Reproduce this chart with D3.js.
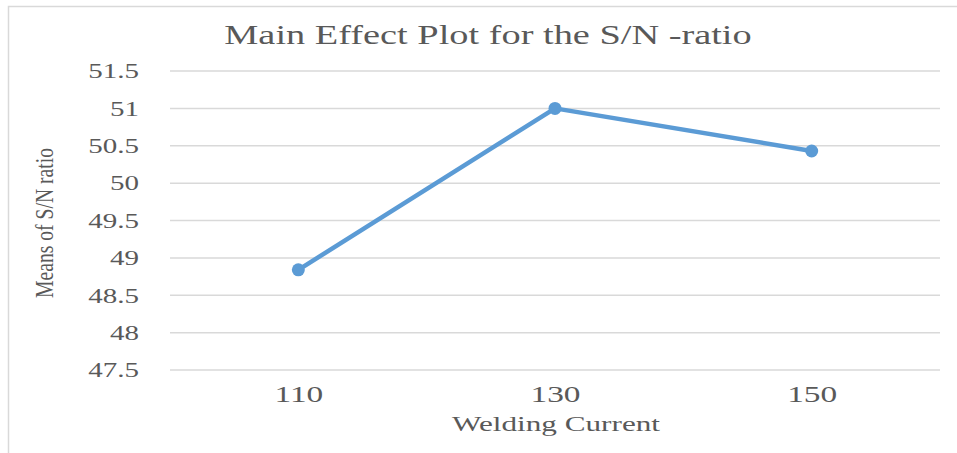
<!DOCTYPE html>
<html>
<head>
<meta charset="utf-8">
<script src="https://cdn.jsdelivr.net/npm/d3@7"></script>
<style>
  body { margin: 0; background: #fff; }
  svg { display: block; }
</style>
</head>
<body>
<script>
const currents = ['110', '130', '150']
const snMeans = [48.84, 51.0, 50.43]
const yTicks = [47.5, 48, 48.5, 49, 49.5, 50, 50.5, 51, 51.5]

const SVG_WIDTH = 957
const SVG_HEIGHT = 453
const MARGIN = { LEFT: 170, RIGHT: 17, TOP: 71, BOTTOM: 83 }
const FONT = "'Liberation Serif', 'Times New Roman', serif"
const TEXT_COLOR = '#595959'

// stretch text horizontally like the original picture
function stretch(sel, k) {
  sel.each(function() {
    const w = this.getComputedTextLength()
    d3.select(this)
      .attr('textLength', w * k)
      .attr('lengthAdjust', 'spacingAndGlyphs')
  })
}

const svg = d3.select('body')
  .append('svg')
  .attr('width', SVG_WIDTH)
  .attr('height', SVG_HEIGHT)

// frame
svg.append('path')
  .attr('d', `M8.5,${SVG_HEIGHT} V6.5 H${SVG_WIDTH}`)
  .attr('fill', 'none')
  .attr('stroke', '#d9d9d9')
  .attr('stroke-width', 1.5)

const scaleX = d3.scalePoint()
  .domain(currents)
  .range([MARGIN.LEFT, SVG_WIDTH - MARGIN.RIGHT])
  .padding(0.5)

const scaleY = d3.scaleLinear()
  .domain([47.5, 51.5])
  .range([SVG_HEIGHT - MARGIN.BOTTOM, MARGIN.TOP])

// gridlines
svg.append('g')
  .selectAll('line')
  .data(yTicks)
  .enter()
    .append('line')
    .attr('x1', MARGIN.LEFT)
    .attr('x2', SVG_WIDTH - MARGIN.RIGHT)
    .attr('y1', d => scaleY(d))
    .attr('y2', d => scaleY(d))
    .attr('stroke', '#d9d9d9')
    .attr('stroke-width', 1.5)

// y axis
const yAxis = svg.append('g')
  .attr('transform', `translate(${MARGIN.LEFT - 31}, 0)`)
  .call(d3.axisLeft(scaleY).tickValues(yTicks).tickSize(0).tickFormat(d3.format('')))
yAxis.select('.domain').remove()
yAxis.selectAll('text')
  .attr('x', 0)
  .attr('font-size', '20px')
  .attr('font-family', FONT)
  .attr('fill', TEXT_COLOR)
  .attr('dy', '0.34em')
  .call(stretch, 1.45)

// x axis
const xAxis = svg.append('g')
  .attr('transform', `translate(0, ${SVG_HEIGHT - MARGIN.BOTTOM})`)
  .call(d3.axisBottom(scaleX).tickSize(0))
xAxis.select('.domain').remove()
xAxis.selectAll('text')
  .attr('y', 32)
  .attr('dy', 0)
  .attr('font-size', '23px')
  .attr('font-family', FONT)
  .attr('fill', TEXT_COLOR)
  .call(stretch, 1.45)

// line + markers
svg.append('path')
  .datum(snMeans)
  .attr('fill', 'none')
  .attr('stroke', '#5b9bd5')
  .attr('stroke-width', 4.5)
  .attr('stroke-linejoin', 'round')
  .attr('d', d3.line()
    .x((d, i) => scaleX(currents[i]))
    .y(d => scaleY(d)))

svg.append('g')
  .selectAll('circle')
  .data(snMeans)
  .enter()
    .append('circle')
    .attr('cx', (d, i) => scaleX(currents[i]))
    .attr('cy', d => scaleY(d))
    .attr('r', 6.5)
    .attr('fill', '#5b9bd5')

// titles
svg.append('text')
  .text('Main Effect Plot for the S/N -ratio')
  .attr('x', 488)
  .attr('y', 44)
  .attr('text-anchor', 'middle')
  .attr('font-size', '27px')
  .attr('font-family', FONT)
  .attr('fill', TEXT_COLOR)
  .call(stretch, 1.42)

svg.append('text')
  .text('Welding Current')
  .attr('x', 556)
  .attr('y', 431)
  .attr('text-anchor', 'middle')
  .attr('font-size', '20px')
  .attr('font-family', FONT)
  .attr('fill', TEXT_COLOR)
  .call(stretch, 1.56)

svg.append('text')
  .text('Means of S/N ratio')
  .attr('transform', 'translate(53, 223) rotate(-90)')
  .attr('text-anchor', 'middle')
  .attr('font-size', '26px')
  .attr('font-family', FONT)
  .attr('fill', TEXT_COLOR)
  .attr('textLength', 150)
  .attr('lengthAdjust', 'spacingAndGlyphs')
</script>
</body>
</html>
